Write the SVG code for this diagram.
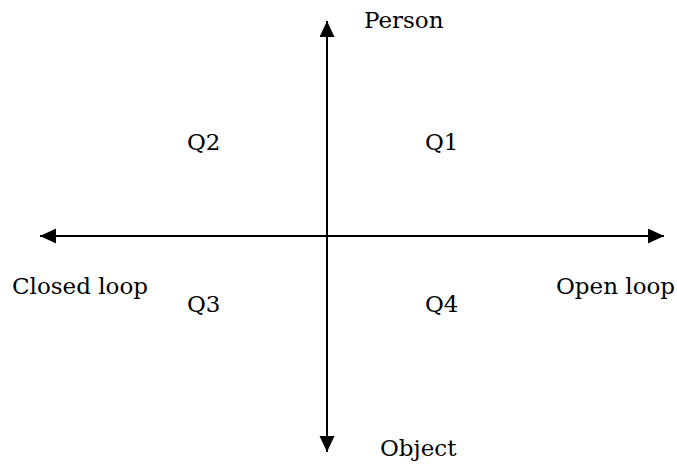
<svg xmlns="http://www.w3.org/2000/svg" width="677" height="467" viewBox="0 0 677 467">
<style>
text{font-family:"DejaVu Serif","Liberation Serif",serif;font-size:23px;fill:#000}
.ax{stroke:#000;stroke-width:2;fill:none}
</style>
<defs>
<marker id="ah" markerUnits="userSpaceOnUse" markerWidth="16" markerHeight="16" refX="16" refY="7.5" orient="auto">
<polygon points="0,0 16,7.5 0,15" fill="#000"/>
</marker>
</defs>
<rect width="677" height="467" fill="#fff"/>
<g id="connectors">
<line class="ax" x1="327" y1="236" x2="327" y2="21" marker-end="url(#ah)"/>
<line class="ax" x1="327" y1="236" x2="327" y2="452" marker-end="url(#ah)"/>
<line class="ax" x1="327" y1="236" x2="40" y2="236" marker-end="url(#ah)"/>
<line class="ax" x1="327" y1="236" x2="664" y2="236" marker-end="url(#ah)"/>
</g>
<g id="person"><text x="364" y="28">Person</text></g>
<g id="object"><text x="380" y="456">Object</text></g>
<g id="closed-loop"><text x="12" y="294">Closed loop</text></g>
<g id="open-loop"><text x="556" y="294">Open loop</text></g>
<g id="q1"><text x="425" y="150">Q1</text></g>
<g id="q2"><text x="187" y="150">Q2</text></g>
<g id="q3"><text x="187" y="312">Q3</text></g>
<g id="q4"><text x="425" y="312">Q4</text></g>
</svg>
